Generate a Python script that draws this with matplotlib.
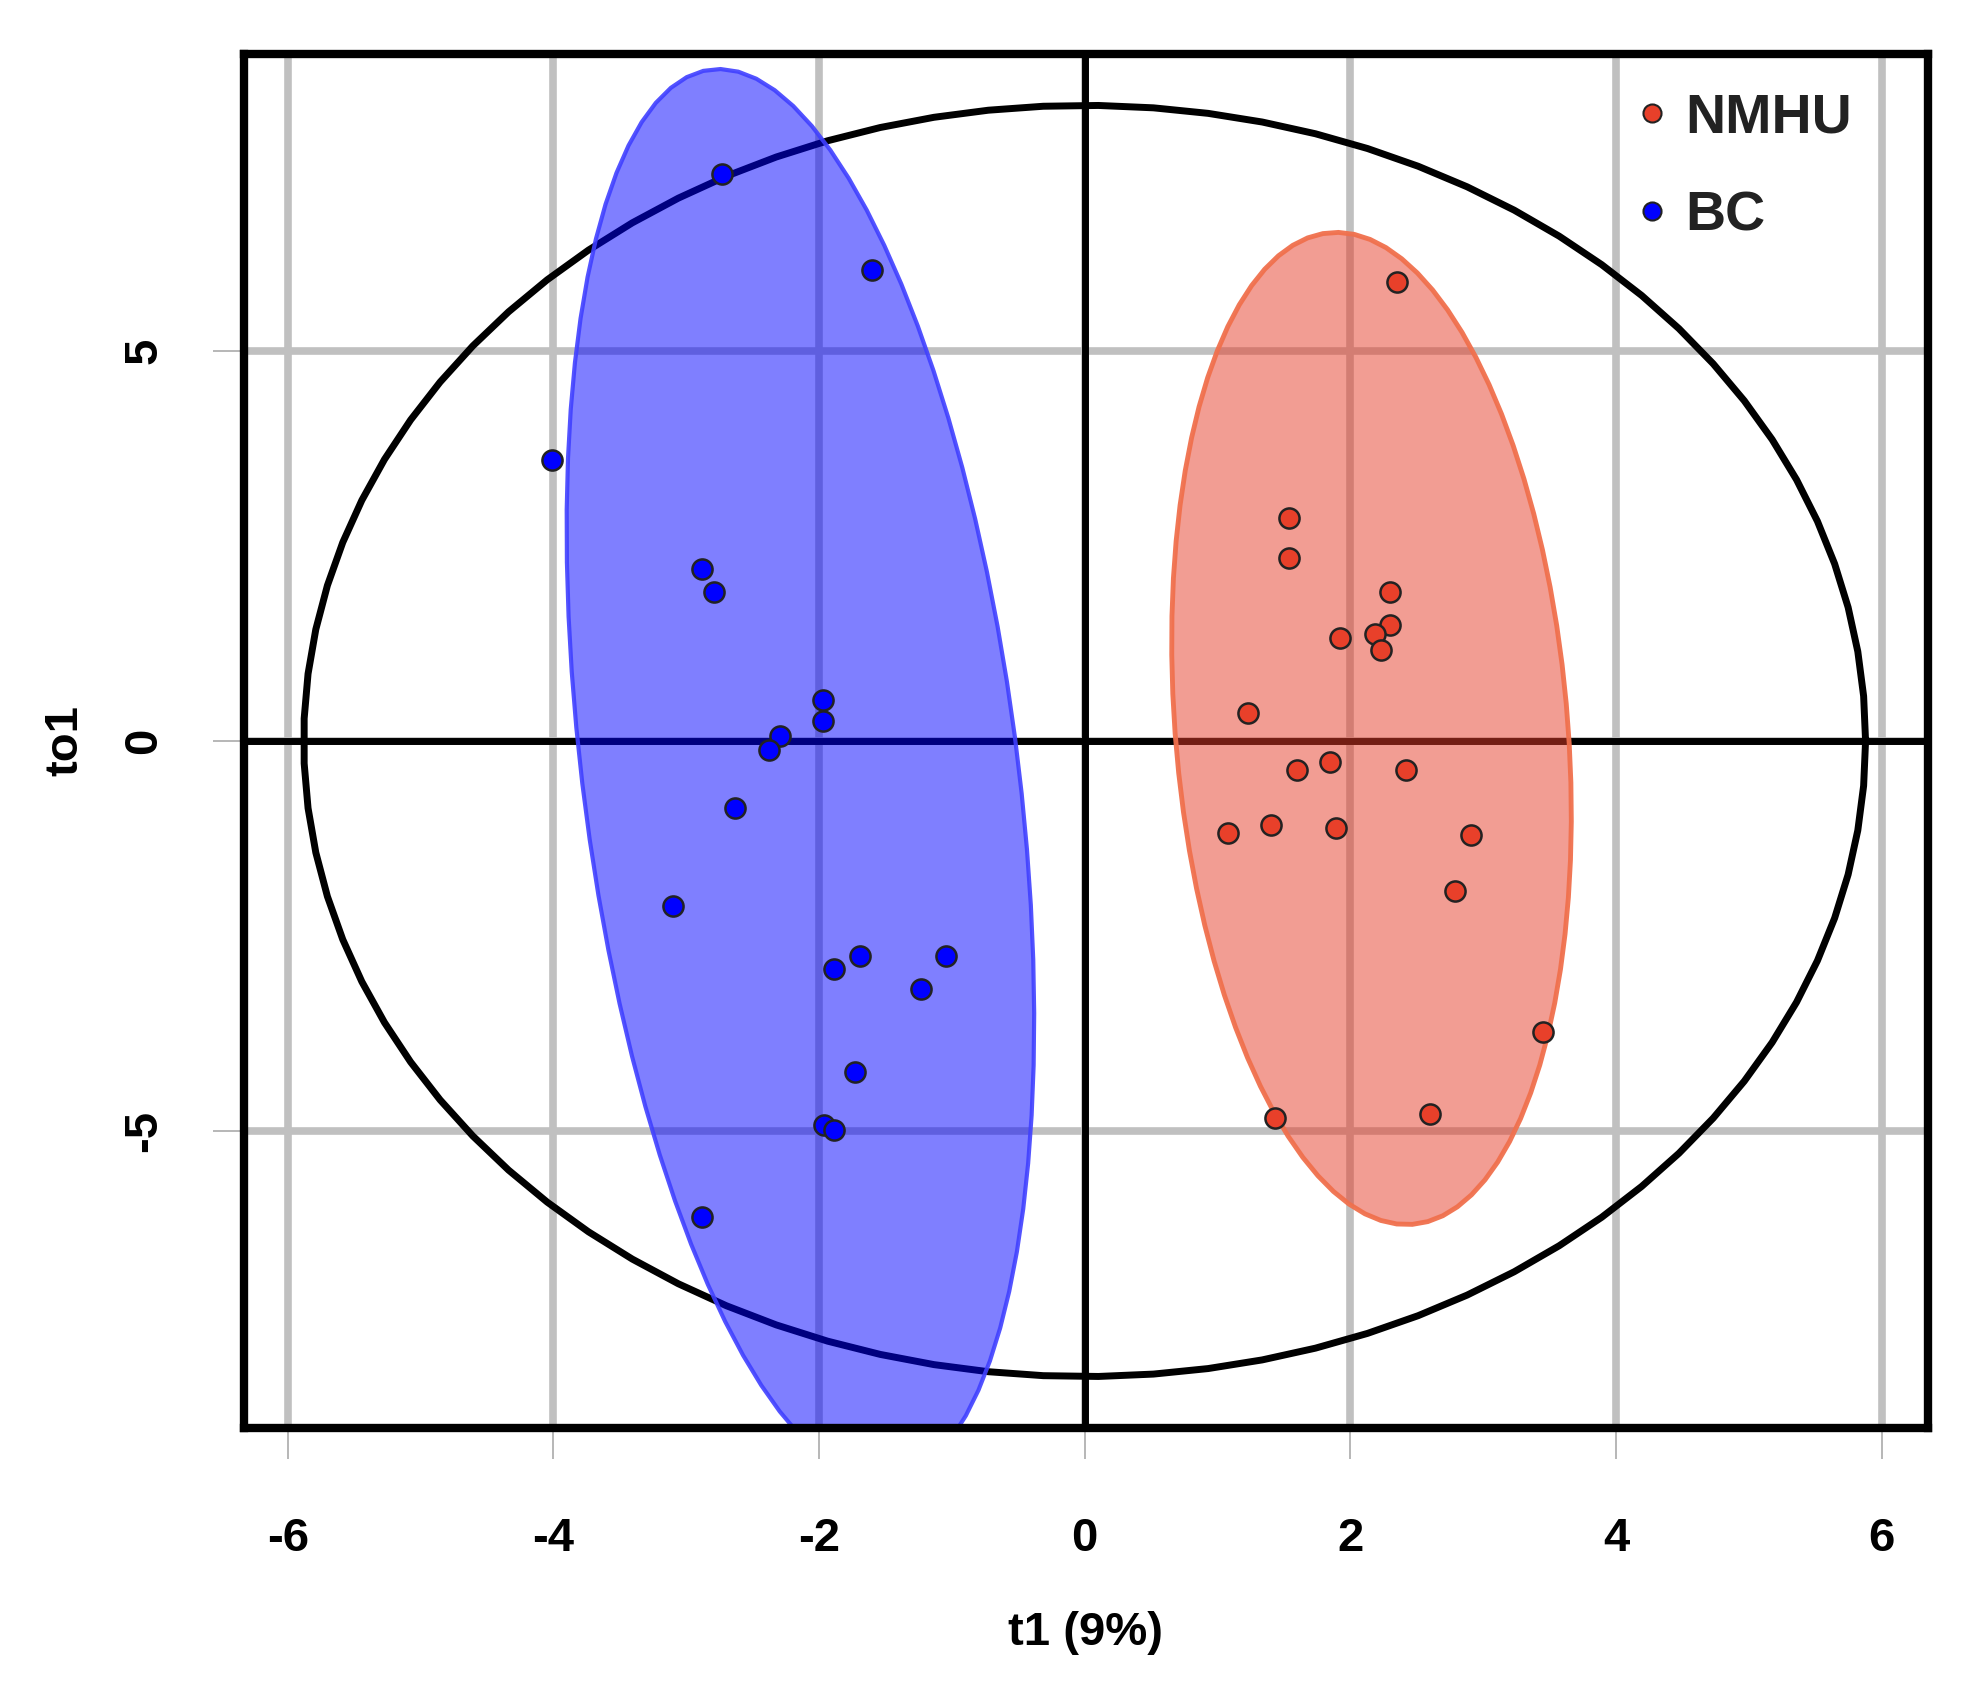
import numpy as np
import matplotlib
matplotlib.use("Agg")
import matplotlib.pyplot as plt
from matplotlib.lines import Line2D

# ---------------- data ----------------
group_names = ["NMHU", "BC"]

nmhu_t1 = [2.35, 1.54, 1.54, 2.30, 2.30, 2.19, 1.92, 2.23, 1.23, 1.60,
           1.85, 2.42, 1.08, 1.40, 1.89, 2.91, 2.79, 3.45, 1.43, 2.60]
nmhu_to1 = [5.88, 2.86, 2.34, 1.91, 1.49, 1.37, 1.32, 1.16, 0.36, -0.37,
            -0.27, -0.37, -1.18, -1.08, -1.11, -1.21, -1.92, -3.73, -4.83, -4.78]

bc_t1 = [-2.73, -1.60, -4.01, -2.88, -2.79, -1.97, -1.97, -2.29, -2.38, -2.63,
         -3.10, -1.89, -1.69, -1.04, -1.23, -1.73, -1.96, -1.89, -2.88]
bc_to1 = [7.27, 6.04, 3.60, 2.21, 1.91, 0.53, 0.26, 0.06, -0.11, -0.86,
          -2.12, -2.92, -2.76, -2.76, -3.18, -4.25, -4.93, -4.99, -6.11]

# centres of the group confidence ellipses (as drawn)
nmhu_ellipse_center = [2.16, 0.16]
bc_ellipse_center = [-2.14, -0.43]

x_ticks = [-6, -4, -2, 0, 2, 4, 6]
y_ticks = [-5, 0, 5]
x_label = "t1 (9%)"
y_label = "to1"
t2_radii = [5.88, 8.15]          # Hotelling T2 ellipse half-axes
chi2_95_2df = 5.991              # 95% quantile of chi-square, 2 df

# ---------------- style ----------------
plt.rcParams["font.family"] = ["Liberation Sans", "DejaVu Sans"]
plt.rcParams["font.weight"] = "bold"
plt.rcParams["axes.unicode_minus"] = False

red_pt = "#E8402A"
blue_pt = "#0000FF"

fig = plt.figure(figsize=(19.75, 16.84), dpi=100)
ax = fig.add_axes([0.1235, 0.152, 0.8527, 0.816])
ax.set_xlim(-6.33, 6.35)
ax.set_ylim(-8.81, 8.81)

ax.set_xticks(x_ticks)
ax.set_yticks(y_ticks)
ax.grid(True, color="#c0c0c0", lw=5.5, zorder=0)
ax.set_axisbelow(True)

ax.axhline(0, color="black", lw=5, zorder=1)
ax.axvline(0, color="black", lw=5, zorder=1)

theta = np.linspace(0, 2 * np.pi, 90)
ax.plot(t2_radii[0] * np.cos(theta), t2_radii[1] * np.sin(theta),
        color="black", lw=5, zorder=2)


def conf_ellipse(x, y, center, n=80):
    pts = np.column_stack([x, y])
    cov = np.cov(pts.T)
    vals, vecs = np.linalg.eigh(cov)
    t = np.linspace(0, 2 * np.pi, n)
    circ = np.column_stack([np.cos(t), np.sin(t)])
    return (circ * np.sqrt(vals * chi2_95_2df)) @ vecs.T + np.asarray(center)


e_bc = conf_ellipse(bc_t1, bc_to1, bc_ellipse_center)
ax.fill(e_bc[:, 0], e_bc[:, 1], facecolor=(0, 0, 1, 0.5),
        edgecolor=(0.25, 0.25, 1.0, 0.9), lw=3, zorder=3)
e_nm = conf_ellipse(nmhu_t1, nmhu_to1, nmhu_ellipse_center)
ax.fill(e_nm[:, 0], e_nm[:, 1], facecolor=(0.902, 0.235, 0.157, 0.5),
        edgecolor=(0.94, 0.44, 0.30, 0.95), lw=3.5, zorder=3)

ax.scatter(bc_t1, bc_to1, s=210, c=blue_pt, edgecolors="#222222",
           linewidths=1.8, zorder=5)
ax.scatter(nmhu_t1, nmhu_to1, s=210, c=red_pt, edgecolors="#222222",
           linewidths=1.8, zorder=5)

for s in ax.spines.values():
    s.set_linewidth(6)
    s.set_color("black")
    s.set_zorder(6)

ax.tick_params(axis="both", length=22, width=1.2, color="#aaaaaa",
               labelsize=34)
ax.tick_params(axis="x", pad=42)
ax.tick_params(axis="y", pad=34)
for lab in ax.get_yticklabels():
    lab.set_rotation(90)
    lab.set_va("center")
    lab.set_fontweight("bold")
for lab in ax.get_xticklabels():
    lab.set_fontweight("bold")

ax.set_xlabel(x_label, fontsize=34, fontweight="bold", labelpad=36)
ax.set_ylabel(y_label, fontsize=34, fontweight="bold", labelpad=25)

handles = [
    Line2D([], [], marker="o", ls="", markersize=13, markerfacecolor=red_pt,
           markeredgecolor="#222222", markeredgewidth=1.5, label=group_names[0]),
    Line2D([], [], marker="o", ls="", markersize=13, markerfacecolor=blue_pt,
           markeredgecolor="#222222", markeredgewidth=1.5, label=group_names[1]),
]
leg = ax.legend(handles=handles, loc="upper right", frameon=False,
                fontsize=40, handletextpad=0.25, labelspacing=0.83,
                borderaxespad=0.0, handlelength=0.7,
                bbox_to_anchor=(0.968, 0.988))
for t in leg.get_texts():
    t.set_color("#222222")
    t.set_fontweight("bold")

fig.savefig("out.png", dpi=100)
